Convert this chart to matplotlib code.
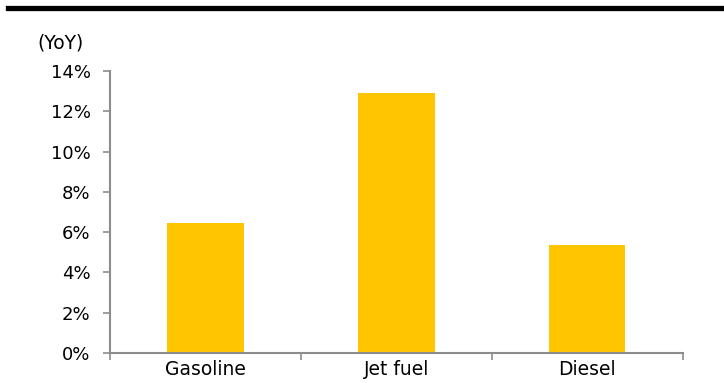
import matplotlib.pyplot as plt
from matplotlib.lines import Line2D
from matplotlib.ticker import FuncFormatter, MultipleLocator

# YoY growth by fuel product (%)
products = ['Gasoline', 'Jet fuel', 'Diesel']
yoy_growth = [6.45, 12.9, 5.35]

bar_color = '#FFC600'
axis_color = '#8c8c8c'

fig = plt.figure(figsize=(7.24, 3.83), dpi=100)
ax = fig.add_axes([0.152, 0.078, 0.791, 0.737])

x = range(len(products))
ax.bar(x, yoy_growth, width=0.4, color=bar_color)

ax.set_xlim(-0.5, len(products) - 0.5)
ax.set_ylim(0, 14)
ax.yaxis.set_major_locator(MultipleLocator(2))
ax.yaxis.set_major_formatter(FuncFormatter(lambda v, _: f'{v:.0f}%'))

ax.set_xticks(list(x))
ax.set_xticklabels(products)
ax.set_xticks([i - 0.5 for i in range(len(products) + 1)], minor=True)
ax.tick_params(axis='x', which='major', length=0, pad=5, labelsize=13.5)
ax.tick_params(axis='x', which='minor', length=5, width=1.2, color=axis_color)
ax.tick_params(axis='y', length=5, width=1.2, color=axis_color, labelsize=13, pad=9)

for side in ['top', 'right']:
    ax.spines[side].set_visible(False)
for side in ['left', 'bottom']:
    ax.spines[side].set_color(axis_color)
    ax.spines[side].set_linewidth(1.5)

fig.text(0.052, 0.887, '(YoY)', fontsize=13.5, va='center', ha='left')

# heavy rule across the top
fig.add_artist(Line2D([0.011, 1.0], [0.979, 0.979], color='black', linewidth=3.8,
                      transform=fig.transFigure))

fig.savefig('out.png', dpi=100)
